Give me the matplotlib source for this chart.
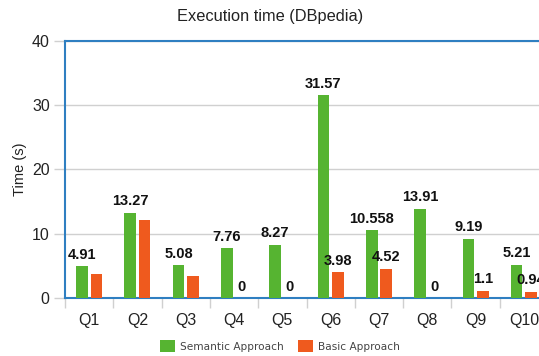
import numpy as np
import matplotlib.pyplot as plt

plt.rcParams['font.family'] = ['Liberation Sans', 'DejaVu Sans']

# data
queries = ['Q1', 'Q2', 'Q3', 'Q4', 'Q5', 'Q6', 'Q7', 'Q8', 'Q9', 'Q10']
semantic = [4.91, 13.27, 5.08, 7.76, 8.27, 31.57, 10.558, 13.91, 9.19, 5.21]
basic = [3.8, 12.1, 3.4, 0, 0, 3.98, 4.52, 0, 1.1, 0.94]
# which basic bars carry a value label
basic_labelled = [False, False, False, True, True, True, True, True, True, True]
semantic_labels = ['4.91', '13.27', '5.08', '7.76', '8.27', '31.57', '10.558', '13.91', '9.19', '5.21']
basic_labels = ['', '', '', '0', '0', '3.98', '4.52', '0', '1.1', '0.94']

GREEN = '#56b431'
ORANGE = '#ef5a1e'
BLUE = '#2f7fc1'
GRID = '#d0d0d0'
TEXT = '#222222'

fig = plt.figure(figsize=(5.39, 3.56), dpi=100)
ax = fig.add_axes([65 / 539, 58 / 356, 483 / 539, 257 / 356])

x = np.arange(len(queries))
w = 0.24
ax.bar(x - 0.15, semantic, w, color=GREEN, label='Semantic Approach', zorder=3)
ax.bar(x + 0.15, basic, w, color=ORANGE, label='Basic Approach', zorder=3)

for i in range(len(queries)):
    ax.text(x[i] - 0.15, semantic[i] + 0.7, semantic_labels[i], ha='center', va='bottom',
            fontsize=10.5, fontweight='bold', color='#111111', zorder=4)
    if basic_labelled[i]:
        ax.text(x[i] + 0.15, basic[i] + 0.7, basic_labels[i], ha='center', va='bottom',
                fontsize=10.5, fontweight='bold', color='#111111', zorder=4)

ax.set_xlim(-0.5, len(queries) - 0.5)
ax.set_ylim(0, 40)
ax.set_yticks([0, 10, 20, 30, 40])
ax.yaxis.grid(True, color=GRID, linewidth=1, zorder=0)
ax.set_xticks(x)
ax.set_xticklabels(queries, fontsize=11.5, color=TEXT)
ax.set_xticks(np.arange(len(queries) + 1) - 0.5, minor=True)
ax.tick_params(axis='x', which='major', length=0, pad=11)
ax.tick_params(axis='x', which='minor', length=7, color=GRID, width=1)
ax.tick_params(axis='y', length=8, color=GRID, width=1, labelsize=11.5, labelcolor=TEXT, pad=3)

for side in ['left', 'top', 'bottom']:
    ax.spines[side].set_color(BLUE)
    ax.spines[side].set_linewidth(1.5)
ax.spines['right'].set_visible(False)

ax.set_ylabel('Time (s)', fontsize=10.5, color=TEXT)
ax.yaxis.set_label_coords(-38 / 483, 0.5)
fig.text(270 / 539, 1 - 17 / 356, 'Execution time (DBpedia)', ha='center', va='center',
         fontsize=11.8, color=TEXT)

fig.legend(loc='center', bbox_to_anchor=(280 / 539, 1 - 346 / 356), ncol=2, frameon=False,
           handlelength=1.4, handleheight=1.3, columnspacing=1.4, labelcolor='#444444',
           handletextpad=0.45, prop={'family': 'DejaVu Sans', 'size': 7.6})

fig.savefig('out.png', dpi=100)
